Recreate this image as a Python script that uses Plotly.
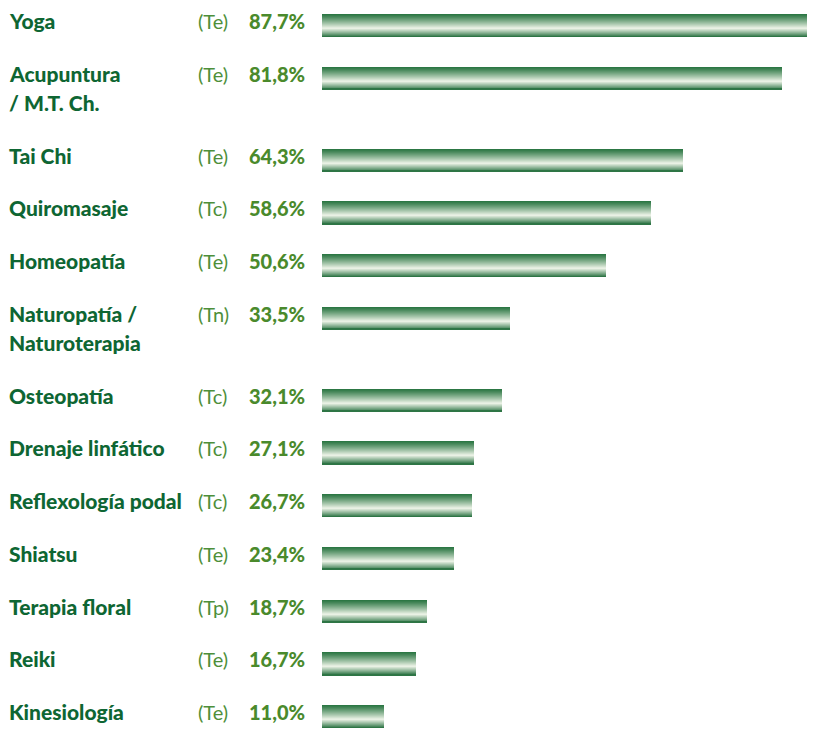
import plotly.graph_objects as go

# ---- data ----
categories = ["Yoga", "Acupuntura\n/ M.T. Ch.", "Tai Chi", "Quiromasaje", "Homeopatía",
              "Naturopatía /\nNaturoterapia", "Osteopatía", "Drenaje linfático",
              "Reflexología podal", "Shiatsu", "Terapia floral", "Reiki", "Kinesiología"]
codes = ["(Te)", "(Te)", "(Te)", "(Tc)", "(Te)", "(Tn)", "(Tc)", "(Tc)", "(Tc)",
         "(Te)", "(Tp)", "(Te)", "(Te)"]
values = [87.7, 81.8, 64.3, 58.6, 50.6, 33.5, 32.1, 27.1, 26.7, 23.4, 18.7, 16.7, 11.0]

# ---- layout constants (page has an 8px body margin, compensate) ----
OFF = 8
W, H = 815 - OFF, 730 - OFF
ML = 322 - OFF                # left margin (bar start)
PLOT_W = W - ML
ROW_PX = 52.75                # pixel height of one row
EXTRA = 29 / ROW_PX           # extra space for a second label line (in row units)
BAR_H = 23 / ROW_PX           # bar thickness in row units
TOP_CENTER_PX = 25.5 - OFF    # pixel of first bar centre

# y positions derived from label line counts
positions = []
p = 0.0
for lab in categories:
    positions.append(p)
    p += 1 + EXTRA * (lab.count("\n"))

y_top = -TOP_CENTER_PX / ROW_PX
y_bot = y_top + H / ROW_PX

# ---- gradient strips ----
DARK_TOP = (40, 116, 64)
DARK_BOT = (30, 106, 56)
LIGHT = (238, 244, 232)
N = 23
TH = 0.62

def mix(a, b, f):
    return tuple(round(a[i] + (b[i] - a[i]) * f) for i in range(3))

fig = go.Figure()
for k in range(N):
    t = (k + 0.5) / N
    if t <= TH:
        f = (t / TH) ** 1.15
        col = mix(DARK_TOP, LIGHT, f)
    else:
        f = ((1 - t) / (1 - TH)) ** 0.9
        col = mix(DARK_BOT, LIGHT, f)
    start = -BAR_H / 2 + k * BAR_H / N
    fig.add_trace(go.Bar(
        y=positions, x=values, orientation="h",
        width=BAR_H / 2 - start, offset=start,
        marker=dict(color="rgb(%d,%d,%d)" % col, line=dict(width=0)),
        hoverinfo="skip", showlegend=False,
    ))

# ---- text annotations ----
def px_to_paper(px):
    return (px - OFF - ML) / PLOT_W

LABEL_COLOR = "#0e6633"
CODE_COLOR = "#4e8f3a"
PCT_COLOR = "#4a8a2c"
FONT = "Lato"

annotations = []
for lab, code, v, pos in zip(categories, codes, values, positions):
    top = pos - BAR_H / 2
    for j, line in enumerate(lab.split("\n")):
        annotations.append(dict(
            x=px_to_paper(7), xref="paper", y=top + j * EXTRA, yref="y",
            xanchor="left", yanchor="top", yshift=8, showarrow=False,
            text=line,
            font=dict(family=FONT, size=21, weight=900, color=LABEL_COLOR)))
    annotations.append(dict(
        x=px_to_paper(196), xref="paper", y=top, yref="y",
        xanchor="left", yanchor="top", yshift=7, showarrow=False,
        text=code, font=dict(family=FONT, size=20, color=CODE_COLOR)))
    annotations.append(dict(
        x=px_to_paper(307), xref="paper", y=top, yref="y",
        xanchor="right", yanchor="top", yshift=7, showarrow=False,
        text="%s%%" % ("%.1f" % v).replace(".", ","),
        font=dict(family=FONT, size=20, weight=900, color=PCT_COLOR)))

fig.update_layout(
    width=W, height=H,
    margin=dict(l=ML, r=0, t=0, b=0),
    paper_bgcolor="white", plot_bgcolor="white",
    barmode="overlay", bargap=0,
    xaxis=dict(range=[0, max(values)], visible=False, fixedrange=True),
    yaxis=dict(range=[y_bot, y_top], visible=False, fixedrange=True),
    annotations=annotations,
    showlegend=False,
)

fig.write_html("out.html", config={"displayModeBar": False})
